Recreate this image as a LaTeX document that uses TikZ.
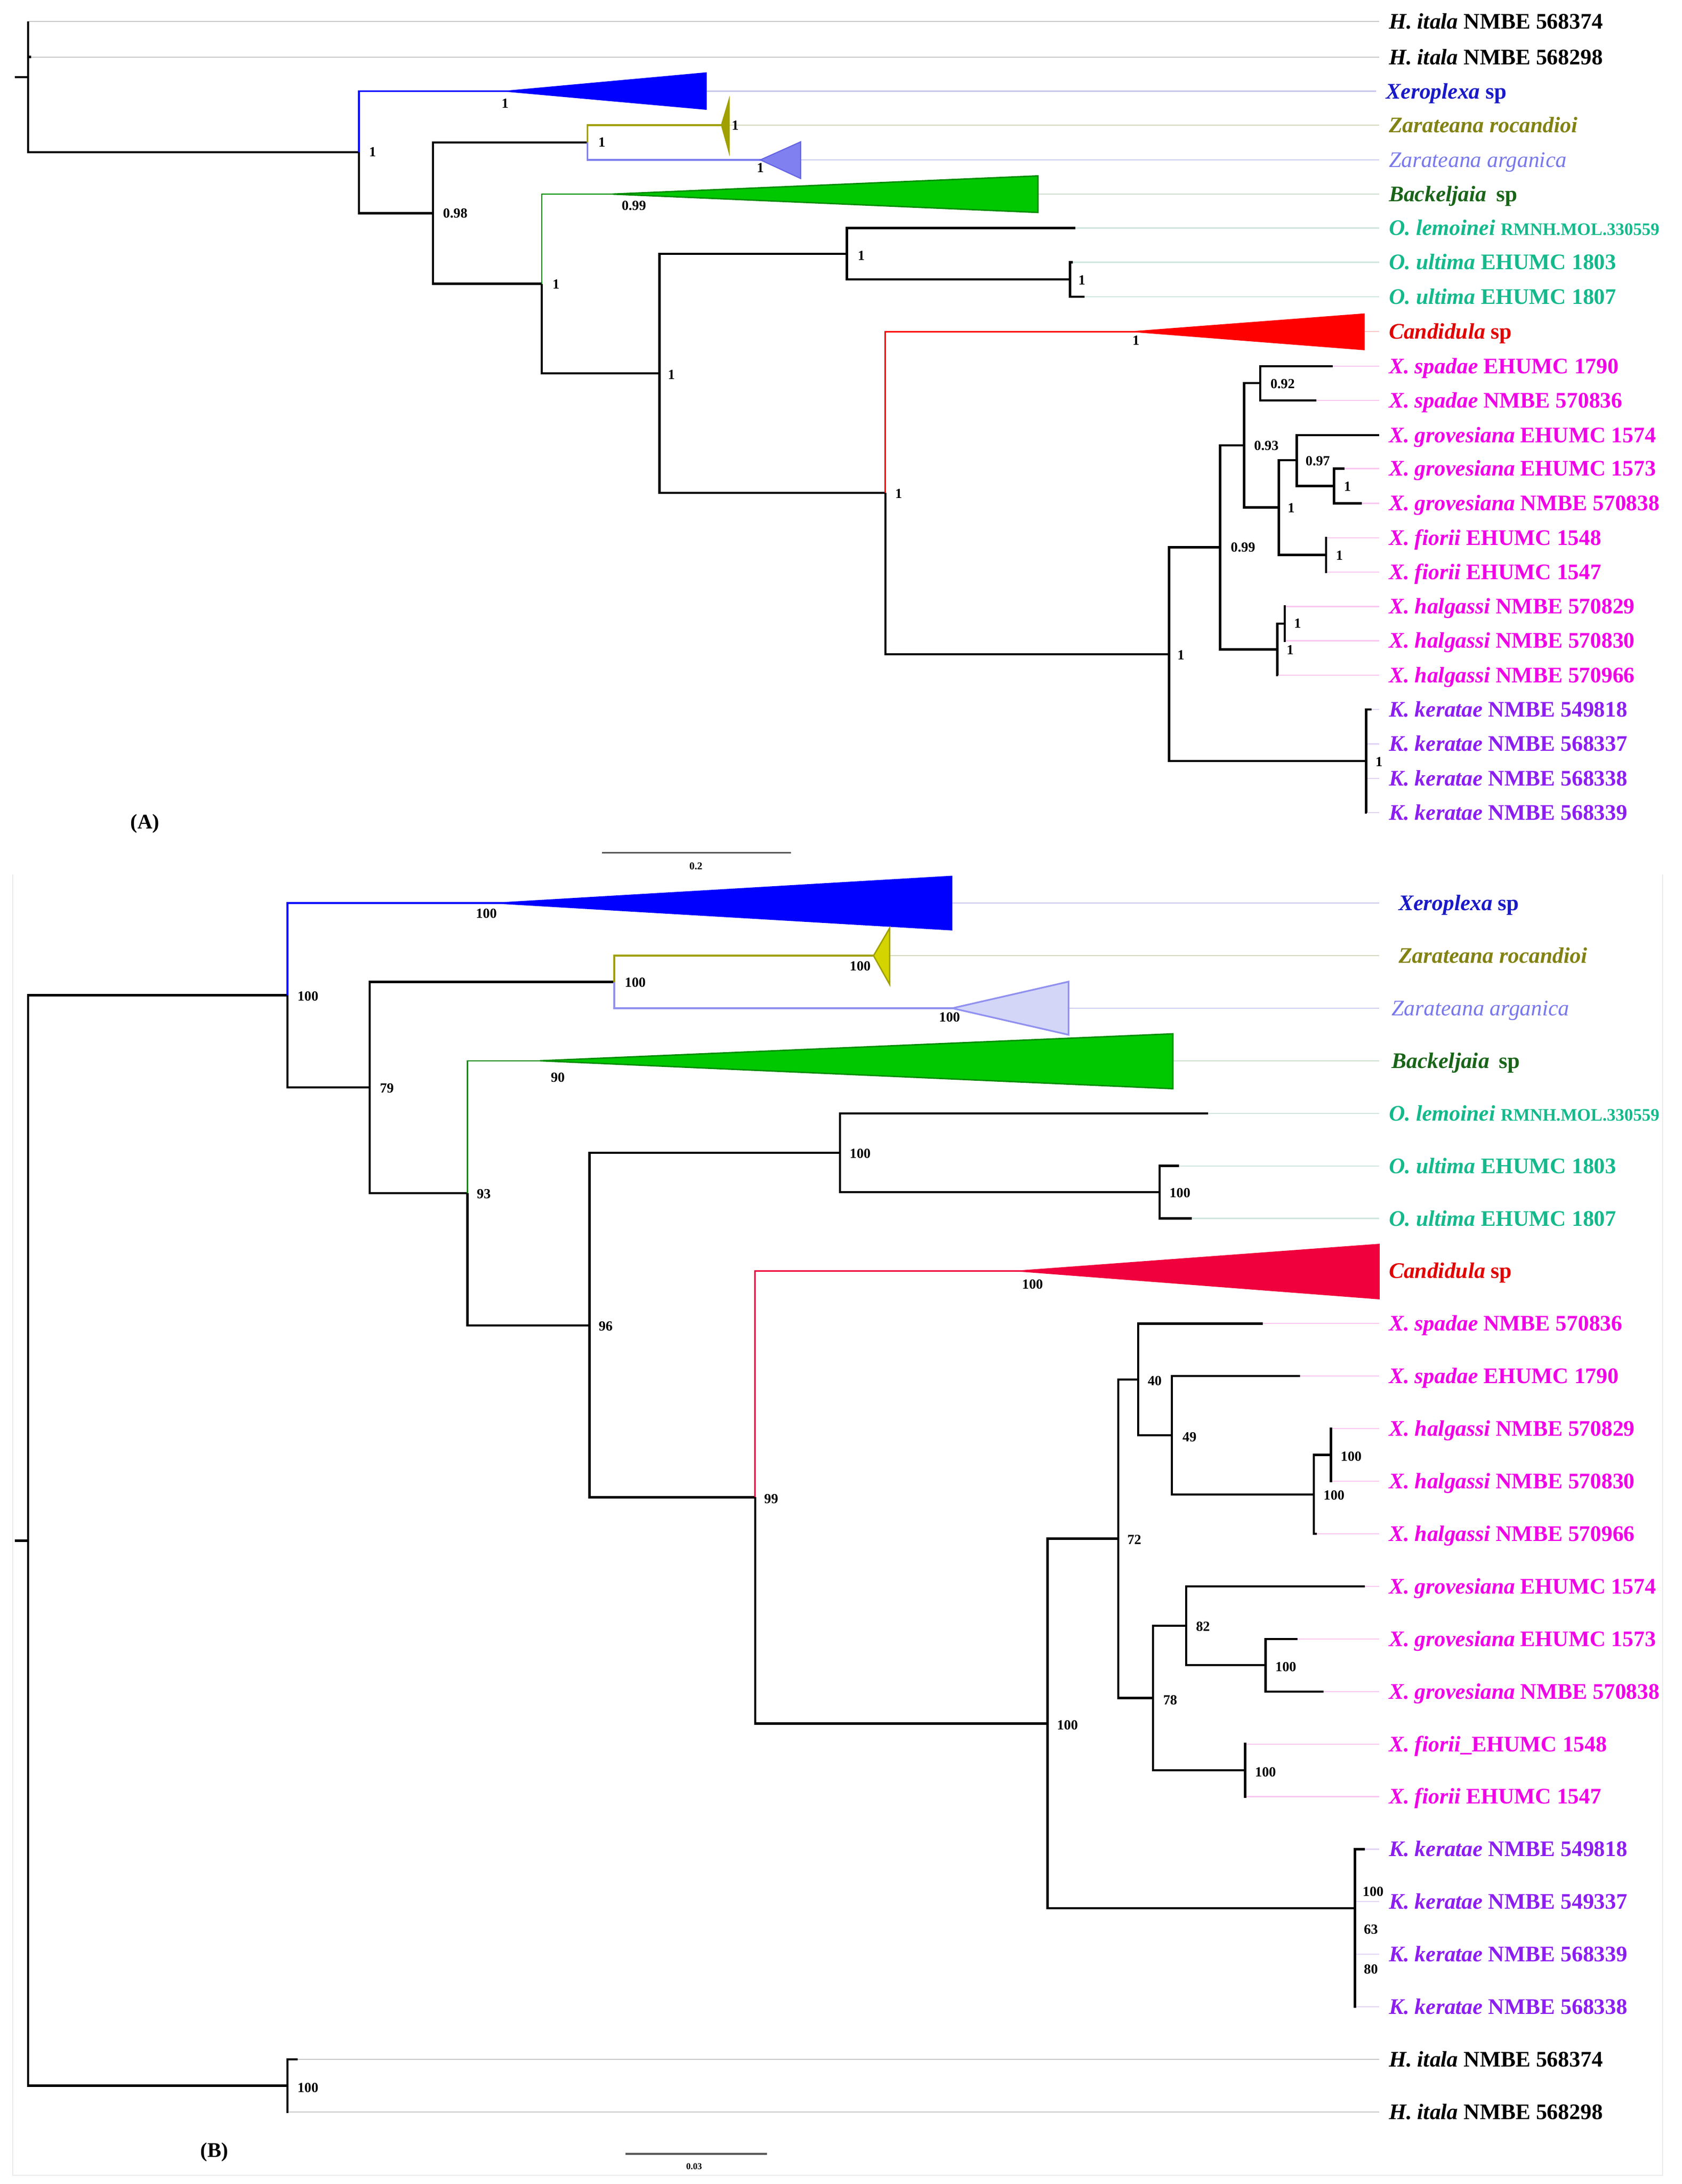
\documentclass[tikz,border=0pt]{standalone}
\usepackage{fontspec}
\setmainfont{Liberation Serif}
\definecolor{cXero}{RGB}{25,25,200}
\definecolor{cXeroF}{RGB}{0,0,255}
\definecolor{cRoc}{RGB}{130,130,20}
\definecolor{cRocA}{RGB}{160,160,0}
\definecolor{cRocF}{RGB}{212,212,0}
\definecolor{cArg}{RGB}{120,120,235}
\definecolor{cArgF}{RGB}{128,128,240}
\definecolor{cArgD}{RGB}{100,100,230}
\definecolor{cArgL}{RGB}{212,214,248}
\definecolor{cArgM}{RGB}{145,145,240}
\definecolor{cBack}{RGB}{25,100,25}
\definecolor{cBackF}{RGB}{0,200,0}
\definecolor{cBackD}{RGB}{0,140,0}
\definecolor{cO}{RGB}{20,185,140}
\definecolor{cCand}{RGB}{225,0,0}
\definecolor{cCandF}{RGB}{255,0,0}
\definecolor{cCandB}{RGB}{240,0,60}
\definecolor{cX}{RGB}{240,0,230}
\definecolor{cK}{RGB}{140,30,240}
\definecolor{lGray}{RGB}{200,200,200}
\definecolor{lXero}{RGB}{200,200,235}
\definecolor{lRoc}{RGB}{215,215,190}
\definecolor{lArg}{RGB}{205,205,240}
\definecolor{lBack}{RGB}{205,222,205}
\definecolor{lO}{RGB}{208,230,224}
\definecolor{lCand}{RGB}{250,200,200}
\definecolor{lX}{RGB}{250,200,240}
\definecolor{lK}{RGB}{225,212,245}
\begin{document}
\begin{tikzpicture}[x=1pt,y=-1pt,
  br/.style={line width=1.6pt,draw=black},
  brc/.style={line width=1.4pt},
  brt/.style={line width=1.0pt},
  tl/.style={line width=0.8pt},
  lab/.style={anchor=west,inner xsep=7pt,inner ysep=0pt,font=\fontsize{16}{18}\selectfont\bfseries,text height=10.6pt,text depth=0pt},
  labr/.style={lab,font=\fontsize{16}{18}\selectfont},
  sup/.style={font=\fontsize{10}{12}\selectfont\bfseries,inner sep=0pt},
  sbar/.style={line width=1.3pt,draw=black!65}]
\useasboundingbox (0,0) rectangle (1210,1570.73);
\newcommand{\smallid}[1]{{\fontsize{12.6}{14}\selectfont #1}}

%%%%%%%%%%%%%%%%%%%%%%%% PANEL A %%%%%%%%%%%%%%%%%%%%%%%%
\node[lab] (LA1) at (992,15.5) {\textit{H. itala} NMBE 568374};
\node[lab] (LA2) at (992,41) {\textit{H. itala} NMBE 568298};
\node[lab,text=cXero] (LA3) at (990,65.6) {\textit{Xeroplexa} sp};
\node[lab,text=cRoc] (LA4) at (992,89.9) {\textit{Zarateana rocandioi}};
\node[labr,text=cArg] (LA5) at (992,115) {\textit{Zarateana arganica}};
\node[lab,text=cBack] (LA6) at (992,139.6) {\textit{Backeljaia}\hspace{7pt}sp};
\node[lab,text=cO] (LA7) at (992,164) {\textit{O. lemoinei} \smallid{RMNH.MOL.330559}};
\node[lab,text=cO] (LA8) at (992,188.6) {\textit{O. ultima} EHUMC 1803};
\node[lab,text=cO] (LA9) at (992,213.5) {\textit{O. ultima} EHUMC 1807};
\node[lab,text=cCand] (LA10) at (992,238.5) {\textit{Candidula} sp};
\node[lab,text=cX] (LA11) at (992,263.3) {\textit{X. spadae} EHUMC 1790};
\node[lab,text=cX] (LA12) at (992,287.9) {\textit{X. spadae} NMBE 570836};
\node[lab,text=cX] (LA13) at (992,312.9) {\textit{X. grovesiana} EHUMC 1574};
\node[lab,text=cX] (LA14) at (992,337) {\textit{X. grovesiana} EHUMC 1573};
\node[lab,text=cX] (LA15) at (992,362) {\textit{X. grovesiana} NMBE 570838};
\node[lab,text=cX] (LA16) at (992,386.7) {\textit{X. fiorii} EHUMC 1548};
\node[lab,text=cX] (LA17) at (992,411.4) {\textit{X. fiorii} EHUMC 1547};
\node[lab,text=cX] (LA18) at (992,436.2) {\textit{X. halgassi} NMBE 570829};
\node[lab,text=cX] (LA19) at (992,460.8) {\textit{X. halgassi} NMBE 570830};
\node[lab,text=cX] (LA20) at (992,485.6) {\textit{X. halgassi} NMBE 570966};
\node[lab,text=cK] (LA21) at (992,510.3) {\textit{K. keratae} NMBE 549818};
\node[lab,text=cK] (LA22) at (992,535) {\textit{K. keratae} NMBE 568337};
\node[lab,text=cK] (LA23) at (992,559.7) {\textit{K. keratae} NMBE 568338};
\node[lab,text=cK] (LA24) at (992,584.4) {\textit{K. keratae} NMBE 568339};

\coordinate (rAs) at (10.8,55.5);
\coordinate (rA) at (20.1,55.5);
\coordinate (tA1) at (20.1,15.5);
\coordinate (tA2) at (22.5,41);
\coordinate (A1) at (258.2,109.45);
\coordinate (aXe) at (359.5,65.6);
\coordinate (bXe1) at (508.4,52);
\coordinate (bXe2) at (508.4,79);
\coordinate (mXe) at (508.4,65.6);
\coordinate (A2) at (311.6,153.3);
\coordinate (AZ) at (422.6,102.45);
\coordinate (aRo) at (519,89.9);
\coordinate (bRo1) at (524.5,71.5);
\coordinate (bRo2) at (524.5,109.7);
\coordinate (mRo) at (524.5,89.9);
\coordinate (aAr) at (547,115);
\coordinate (bAr1) at (576,102);
\coordinate (bAr2) at (576,128.4);
\coordinate (mAr) at (576,115);
\coordinate (A3) at (389.7,204.1);
\coordinate (aBk) at (440.7,139.6);
\coordinate (bBk1) at (746.7,126.5);
\coordinate (bBk2) at (746.7,152.8);
\coordinate (mBk) at (746.7,139.6);
\coordinate (A4) at (474.4,268.6);
\coordinate (AO) at (609.2,182.65);
\coordinate (tAlem) at (773.7,164);
\coordinate (AOU) at (769.8,201.05);
\coordinate (tA8) at (771.7,188.6);
\coordinate (tA9) at (780.2,213.5);
\coordinate (A5) at (636.9,354.5);
\coordinate (aCa) at (810.3,238.5);
\coordinate (bCa1) at (981.7,225.4);
\coordinate (bCa2) at (981.7,251.9);
\coordinate (mCa) at (981.7,238.5);
\coordinate (AXK) at (841,470.5);
\coordinate (AX) at (877.7,393.65);
\coordinate (A93) at (895,320.25);
\coordinate (A92) at (906.6,275.6);
\coordinate (tA11) at (958.6,263.3);
\coordinate (tA12) at (947,287.9);
\coordinate (Ab1) at (920,364.9);
\coordinate (A97) at (932.8,331);
\coordinate (tA13) at (992.1,312.9);
\coordinate (AG) at (959.7,349.5);
\coordinate (tA14) at (967,337);
\coordinate (tA15) at (979.7,362);
\coordinate (AF) at (953.9,399.05);
\coordinate (tA16) at (954.6,386.7);
\coordinate (tA17) at (954.6,411.4);
\coordinate (AH1) at (918.9,467.05);
\coordinate (AH2) at (924.3,448.5);
\coordinate (tA18) at (925,436.2);
\coordinate (tA19) at (925,460.8);
\coordinate (tA20) at (919.6,485.6);
\coordinate (AK) at (982.8,547.35);
\coordinate (tA21) at (986.5,510.3);
\coordinate (tA22) at (983.5,535);
\coordinate (tA23) at (983.5,559.7);
\coordinate (tA24) at (983.5,584.4);

\draw[tl,lGray] (tA1) -- (LA1.west);
\draw[tl,lGray] (tA2) -- (LA2.west);
\draw[tl,lXero] (mXe) -- (LA3.west);
\draw[tl,lRoc] (mRo) -- (LA4.west);
\draw[tl,lArg] (mAr) -- (LA5.west);
\draw[tl,lBack] (mBk) -- (LA6.west);
\draw[tl,lO] (tAlem) -- (LA7.west);
\draw[tl,lO] (tA8) -- (LA8.west);
\draw[tl,lO] (tA9) -- (LA9.west);
\draw[tl,lCand] (mCa) -- (LA10.west);
\draw[tl,lX] (tA11) -- (LA11.west);
\draw[tl,lX] (tA12) -- (LA12.west);
\draw[tl,lX] (tA14) -- (LA14.west);
\draw[tl,lX] (tA15) -- (LA15.west);
\draw[tl,lX] (tA16) -- (LA16.west);
\draw[tl,lX] (tA17) -- (LA17.west);
\draw[tl,lX] (tA18) -- (LA18.west);
\draw[tl,lX] (tA19) -- (LA19.west);
\draw[tl,lX] (tA20) -- (LA20.west);
\draw[tl,lK] (tA21) -- (LA21.west);
\draw[tl,lK] (tA22) -- (LA22.west);
\draw[tl,lK] (tA23) -- (LA23.west);
\draw[tl,lK] (tA24) -- (LA24.west);

\draw[br] (rAs) -- (rA);
\draw[br] (rA) |- (tA1);
\draw[br] (rA) |- (tA2);
\draw[br] (rA) |- (A1);
\draw[brc,cXeroF] (A1) |- (aXe) -- +(14,0);
\fill[cXeroF] (aXe) -- (bXe1) -- (bXe2) -- cycle;
\draw[br] (A1) |- (A2);
\draw[br] (A2) |- (AZ);
\draw[brc,cRocA] (AZ) |- (aRo);
\filldraw[cRocA,line width=0.8pt] (aRo) -- (bRo1) -- (bRo2) -- cycle;
\draw[brc,cArgF] (AZ) |- (aAr) -- +(6,0);
\filldraw[fill=cArgF,draw=cArgD,line width=0.8pt] (aAr) -- (bAr1) -- (bAr2) -- cycle;
\draw[br] (A2) |- (A3);
\draw[brt,cBackD] (A3) |- (aBk) -- +(20,0);
\filldraw[fill=cBackF,draw=cBackD,line width=1pt] (aBk) -- (bBk1) -- (bBk2) -- cycle;
\draw[br] (A3) |- (A4);
\draw[br] (A4) |- (AO);
\draw[br] (AO) |- (tAlem);
\draw[br] (AO) |- (AOU);
\draw[br] (AOU) |- (tA8);
\draw[br] (AOU) |- (tA9);
\draw[br] (A4) |- (A5);
\draw[brc,line width=1.2pt,cCandF] (A5) |- (aCa) -- +(14,0);
\fill[cCandF] (aCa) -- (bCa1) -- (bCa2) -- cycle;
\draw[br] (A5) |- (AXK);
\draw[br] (AXK) |- (AX);
\draw[br] (AX) |- (A93);
\draw[br] (A93) |- (A92);
\draw[br] (A92) |- (tA11);
\draw[br] (A92) |- (tA12);
\draw[br] (A93) |- (Ab1);
\draw[br] (Ab1) |- (A97);
\draw[br] (A97) |- (tA13);
\draw[br] (A97) |- (AG);
\draw[br] (AG) |- (tA14);
\draw[br] (AG) |- (tA15);
\draw[br] (Ab1) |- (AF);
\draw[br] (AF) |- (tA16);
\draw[br] (AF) |- (tA17);
\draw[br] (AX) |- (AH1);
\draw[br] (AH1) |- (AH2);
\draw[br] (AH2) |- (tA18);
\draw[br] (AH2) |- (tA19);
\draw[br] (AH1) |- (tA20);
\draw[br] (AXK) |- (AK);
\draw[br] (AK) |- (tA21);
\draw[br] (AK) |- (tA22);
\draw[br] (AK) |- (tA23);
\draw[br] (AK) |- (tA24);

\node[sup] (sA1) at (268,109.4) {1};
\node[sup] (sA2) at (363.4,74.5) {1};
\node[sup] (sA3) at (528.9,90.2) {1};
\node[sup] (sA4) at (433,102.4) {1};
\node[sup] (sA5) at (547,120.7) {1};
\node[sup] (sA6) at (327.5,153.5) {0.98};
\node[sup] (sA7) at (456,148) {0.99};
\node[sup] (sA8) at (400,204.5) {1};
\node[sup] (sA9) at (483,269.4) {1};
\node[sup] (sA10) at (619.6,184) {1};
\node[sup] (sA11) at (778.3,201.5) {1};
\node[sup] (sA12) at (646.5,355) {1};
\node[sup] (sA13) at (817.2,244.8) {1};
\node[sup] (sA14) at (849.5,471) {1};
\node[sup] (sA15) at (894.2,393.6) {0.99};
\node[sup] (sA16) at (911,320.6) {0.93};
\node[sup] (sA17) at (922.7,276) {0.92};
\node[sup] (sA18) at (928.9,365.3) {1};
\node[sup] (sA19) at (948,331.4) {0.97};
\node[sup] (sA20) at (969.4,349.8) {1};
\node[sup] (sA21) at (963.6,399.3) {1};
\node[sup] (sA22) at (933.5,448.5) {1};
\node[sup] (sA23) at (928.1,467.4) {1};
\node[sup] (sA24) at (992,548) {1};

\node[font=\fontsize{15}{17}\selectfont\bfseries,inner sep=0pt] (tagA) at (104.4,592.5) {(A)};
\coordinate (sbA1) at (433,613.3);
\coordinate (sbA2) at (569,613.3);
\draw[sbar] (sbA1) -- (sbA2);
\node[font=\fontsize{7.5}{9}\selectfont\bfseries,inner sep=0pt] (sbAt) at (500.6,623) {0.2};

%%%%%%%%%%%%%%%%%%%%%%%% PANEL B %%%%%%%%%%%%%%%%%%%%%%%%
\coordinate (frTL) at (9.3,629);
\coordinate (frBL) at (9.3,1564.5);
\coordinate (frBR) at (1196,1564.5);
\coordinate (frTR) at (1196,629);
\draw[line width=0.8pt,black!8] (frTL) -- (frBL) -- (frBR) -- (frTR);

\node[lab,text=cXero] (LB1) at (992,649.5) {\hspace*{7pt}\textit{Xeroplexa} sp};
\node[lab,text=cRoc] (LB2) at (992,687.3) {\hspace*{7pt}\textit{Zarateana rocandioi}};
\node[labr,text=cArg] (LB3) at (992,725.1) {\hspace*{2pt}\textit{Zarateana arganica}};
\node[lab,text=cBack] (LB4) at (992,762.9) {\hspace*{2pt}\textit{Backeljaia}\hspace{7pt}sp};
\node[lab,text=cO] (LB5) at (992,800.7) {\textit{O. lemoinei} \smallid{RMNH.MOL.330559}};
\node[lab,text=cO] (LB6) at (992,838.5) {\textit{O. ultima} EHUMC 1803};
\node[lab,text=cO] (LB7) at (992,876.3) {\textit{O. ultima} EHUMC 1807};
\node[lab,text=cCand] (LB8) at (992,914.1) {\textit{Candidula} sp};
\node[lab,text=cX] (LB9) at (992,951.9) {\textit{X. spadae} NMBE 570836};
\node[lab,text=cX] (LB10) at (992,989.7) {\textit{X. spadae} EHUMC 1790};
\node[lab,text=cX] (LB11) at (992,1027.5) {\textit{X. halgassi} NMBE 570829};
\node[lab,text=cX] (LB12) at (992,1065.3) {\textit{X. halgassi} NMBE 570830};
\node[lab,text=cX] (LB13) at (992,1103.1) {\textit{X. halgassi} NMBE 570966};
\node[lab,text=cX] (LB14) at (992,1140.9) {\textit{X. grovesiana} EHUMC 1574};
\node[lab,text=cX] (LB15) at (992,1178.7) {\textit{X. grovesiana} EHUMC 1573};
\node[lab,text=cX] (LB16) at (992,1216.5) {\textit{X. grovesiana} NMBE 570838};
\node[lab,text=cX] (LB17) at (992,1254.3) {\textit{X. fiorii}\_EHUMC 1548};
\node[lab,text=cX] (LB18) at (992,1292.1) {\textit{X. fiorii} EHUMC 1547};
\node[lab,text=cK] (LB19) at (992,1329.9) {\textit{K. keratae} NMBE 549818};
\node[lab,text=cK] (LB20) at (992,1367.7) {\textit{K. keratae} NMBE 549337};
\node[lab,text=cK] (LB21) at (992,1405.5) {\textit{K. keratae} NMBE 568339};
\node[lab,text=cK] (LB22) at (992,1443.3) {\textit{K. keratae} NMBE 568338};
\node[lab] (LB23) at (992,1481.1) {\textit{H. itala} NMBE 568374};
\node[lab] (LB24) at (992,1518.9) {\textit{H. itala} NMBE 568298};

\coordinate (rBs) at (10.8,1108);
\coordinate (rB) at (20.1,1108);
\coordinate (B1) at (206.8,715.8);
\coordinate (aXeB) at (349.9,649.5);
\coordinate (bXeB1) at (685.1,629.8);
\coordinate (bXeB2) at (685.1,669.2);
\coordinate (mXeB) at (685.1,649.5);
\coordinate (B2) at (266,782.1);
\coordinate (ZB) at (441.9,706.2);
\coordinate (aRoB) at (628.4,687.3);
\coordinate (bRoB1) at (640,667.5);
\coordinate (bRoB2) at (640,708);
\coordinate (mRoB) at (640,687.3);
\coordinate (aArB) at (685.1,725.1);
\coordinate (bArB1) at (768.7,706);
\coordinate (bArB2) at (768.7,744.2);
\coordinate (mArB) at (768.7,725.1);
\coordinate (B3) at (336.3,858.05);
\coordinate (aBkB) at (388.5,762.9);
\coordinate (bBkB1) at (843.8,743.5);
\coordinate (bBkB2) at (843.8,783);
\coordinate (mBkB) at (843.8,762.9);
\coordinate (B4) at (424.1,953.2);
\coordinate (OB) at (604.3,829.05);
\coordinate (tBlem) at (869.2,800.7);
\coordinate (OUB) at (834.1,857.4);
\coordinate (tB6) at (848,838.5);
\coordinate (tB7) at (857.2,876.3);
\coordinate (B99) at (543.2,1076.8);
\coordinate (aCaB) at (727.4,914.1);
\coordinate (bCaB1) at (992.5,894.5);
\coordinate (bCaB2) at (992.5,934.5);
\coordinate (B100) at (753.6,1239.5);
\coordinate (B72) at (804.5,1106.6);
\coordinate (B40) at (818.7,992.05);
\coordinate (tB9) at (908.5,951.9);
\coordinate (B49) at (843,1032.2);
\coordinate (tB10) at (935.4,989.7);
\coordinate (BH) at (945.1,1074.75);
\coordinate (BH1) at (957.4,1046.4);
\coordinate (tB11) at (958.5,1027.5);
\coordinate (tB12) at (958.5,1065.3);
\coordinate (tB13) at (947.5,1103.1);
\coordinate (B78) at (829.5,1221.2);
\coordinate (B82) at (853.4,1169.25);
\coordinate (tB14) at (981.7,1140.9);
\coordinate (BG) at (910.4,1197.6);
\coordinate (tB15) at (933.5,1178.7);
\coordinate (tB16) at (952,1216.5);
\coordinate (BF) at (895.8,1273.2);
\coordinate (tB17) at (896.5,1254.3);
\coordinate (tB18) at (896.5,1292.1);
\coordinate (BK) at (974.7,1372.4);
\coordinate (tB19) at (981.7,1329.9);
\coordinate (tB20) at (975.5,1367.7);
\coordinate (tB21) at (975.5,1405.5);
\coordinate (tB22) at (975.5,1443.3);
\coordinate (BHI) at (206.8,1500);
\coordinate (tB23) at (214,1481.1);
\coordinate (tB24) at (207.5,1518.9);

\draw[tl,lXero] (mXeB) -- (LB1.west);
\draw[tl,lRoc] (mRoB) -- (LB2.west);
\draw[tl,lArg] (mArB) -- (LB3.west);
\draw[tl,lBack] (mBkB) -- (LB4.west);
\draw[tl,lO] (tBlem) -- (LB5.west);
\draw[tl,lO] (tB6) -- (LB6.west);
\draw[tl,lO] (tB7) -- (LB7.west);
\draw[tl,lX] (tB9) -- (LB9.west);
\draw[tl,lX] (tB10) -- (LB10.west);
\draw[tl,lX] (tB11) -- (LB11.west);
\draw[tl,lX] (tB12) -- (LB12.west);
\draw[tl,lX] (tB13) -- (LB13.west);
\draw[tl,lX] (tB14) -- (LB14.west);
\draw[tl,lX] (tB15) -- (LB15.west);
\draw[tl,lX] (tB16) -- (LB16.west);
\draw[tl,lX] (tB17) -- (LB17.west);
\draw[tl,lX] (tB18) -- (LB18.west);
\draw[tl,lK] (tB19) -- (LB19.west);
\draw[tl,lK] (tB20) -- (LB20.west);
\draw[tl,lK] (tB21) -- (LB21.west);
\draw[tl,lK] (tB22) -- (LB22.west);
\draw[tl,lGray] (tB23) -- (LB23.west);
\draw[tl,lGray] (tB24) -- (LB24.west);

\draw[br] (rBs) -- (rB);
\draw[br] (rB) |- (B1);
\draw[br] (rB) |- (BHI);
\draw[brc,cXeroF] (B1) |- (aXeB) -- +(14,0);
\fill[cXeroF] (aXeB) -- (bXeB1) -- (bXeB2) -- cycle;
\draw[br] (B1) |- (B2);
\draw[br] (B2) |- (ZB);
\draw[brc,cRocA] (ZB) |- (aRoB);
\filldraw[fill=cRocF,draw=cRocA,line width=1pt] (aRoB) -- (bRoB1) -- (bRoB2) -- cycle;
\draw[brc,cArgM] (ZB) |- (aArB);
\filldraw[fill=cArgL,draw=cArgM,line width=1.2pt] (aArB) -- (bArB1) -- (bArB2) -- cycle;
\draw[br] (B2) |- (B3);
\draw[brt,cBackD] (B3) |- (aBkB) -- +(20,0);
\filldraw[fill=cBackF,draw=cBackD,line width=1pt] (aBkB) -- (bBkB1) -- (bBkB2) -- cycle;
\draw[br] (B3) |- (B4);
\draw[br] (B4) |- (OB);
\draw[br] (OB) |- (tBlem);
\draw[br] (OB) |- (OUB);
\draw[br] (OUB) |- (tB6);
\draw[br] (OUB) |- (tB7);
\draw[br] (B4) |- (B99);
\draw[brc,line width=1.2pt,cCandB] (B99) |- (aCaB) -- +(14,0);
\fill[cCandB] (aCaB) -- (bCaB1) -- (bCaB2) -- cycle;
\draw[br] (B99) |- (B100);
\draw[br] (B100) |- (B72);
\draw[br] (B72) |- (B40);
\draw[br] (B40) |- (tB9);
\draw[br] (B40) |- (B49);
\draw[br] (B49) |- (tB10);
\draw[br] (B49) |- (BH);
\draw[br] (BH) |- (BH1);
\draw[br] (BH1) |- (tB11);
\draw[br] (BH1) |- (tB12);
\draw[br] (BH) |- (tB13);
\draw[br] (B72) |- (B78);
\draw[br] (B78) |- (B82);
\draw[br] (B82) |- (tB14);
\draw[br] (B82) |- (BG);
\draw[br] (BG) |- (tB15);
\draw[br] (BG) |- (tB16);
\draw[br] (B78) |- (BF);
\draw[br] (BF) |- (tB17);
\draw[br] (BF) |- (tB18);
\draw[br] (B100) |- (BK);
\draw[br] (BK) |- (tB19);
\draw[br] (BK) |- (tB20);
\draw[br] (BK) |- (tB21);
\draw[br] (BK) |- (tB22);
\draw[br] (BHI) |- (tB23);
\draw[br] (BHI) |- (tB24);

\node[sup] (sB1) at (221.5,716.4) {100};
\node[sup] (sB2) at (349.9,657.1) {100};
\node[sup] (sB3) at (278.3,782.6) {79};
\node[sup] (sB4) at (457,706.6) {100};
\node[sup] (sB5) at (618.8,695) {100};
\node[sup] (sB6) at (683.1,731.6) {100};
\node[sup] (sB7) at (348,858.6) {93};
\node[sup] (sB8) at (401.3,774.9) {90};
\node[sup] (sB9) at (435.7,954) {96};
\node[sup] (sB10) at (618.8,829.5) {100};
\node[sup] (sB11) at (848.8,857.9) {100};
\node[sup] (sB12) at (554.8,1078) {99};
\node[sup] (sB13) at (742.8,923.6) {100};
\node[sup] (sB14) at (767.9,1240.6) {100};
\node[sup] (sB15) at (816,1107.3) {72};
\node[sup] (sB16) at (830.7,993) {40};
\node[sup] (sB17) at (855.7,1033.5) {49};
\node[sup] (sB18) at (972,1047.3) {100};
\node[sup] (sB19) at (959.7,1075.4) {100};
\node[sup] (sB20) at (841.8,1222.6) {78};
\node[sup] (sB21) at (865.4,1169.9) {82};
\node[sup] (sB22) at (925,1198.7) {100};
\node[sup] (sB23) at (910.4,1274.6) {100};
\node[sup] (sB24) at (987.8,1360.6) {100};
\node[sup] (sB25) at (986.2,1387.7) {63};
\node[sup] (sB26) at (986.2,1416.3) {80};
\node[sup] (sB27) at (221.5,1501.4) {100};

\node[font=\fontsize{15}{17}\selectfont\bfseries,inner sep=0pt] (tagB) at (154.3,1548) {(B)};
\coordinate (sbB1) at (449.9,1549.1);
\coordinate (sbB2) at (551.8,1549.1);
\draw[sbar] (sbB1) -- (sbB2);
\node[font=\fontsize{6.5}{8}\selectfont\bfseries,inner sep=0pt] (sbBt) at (499.3,1558.3) {0.03};
\end{tikzpicture}
\end{document}
